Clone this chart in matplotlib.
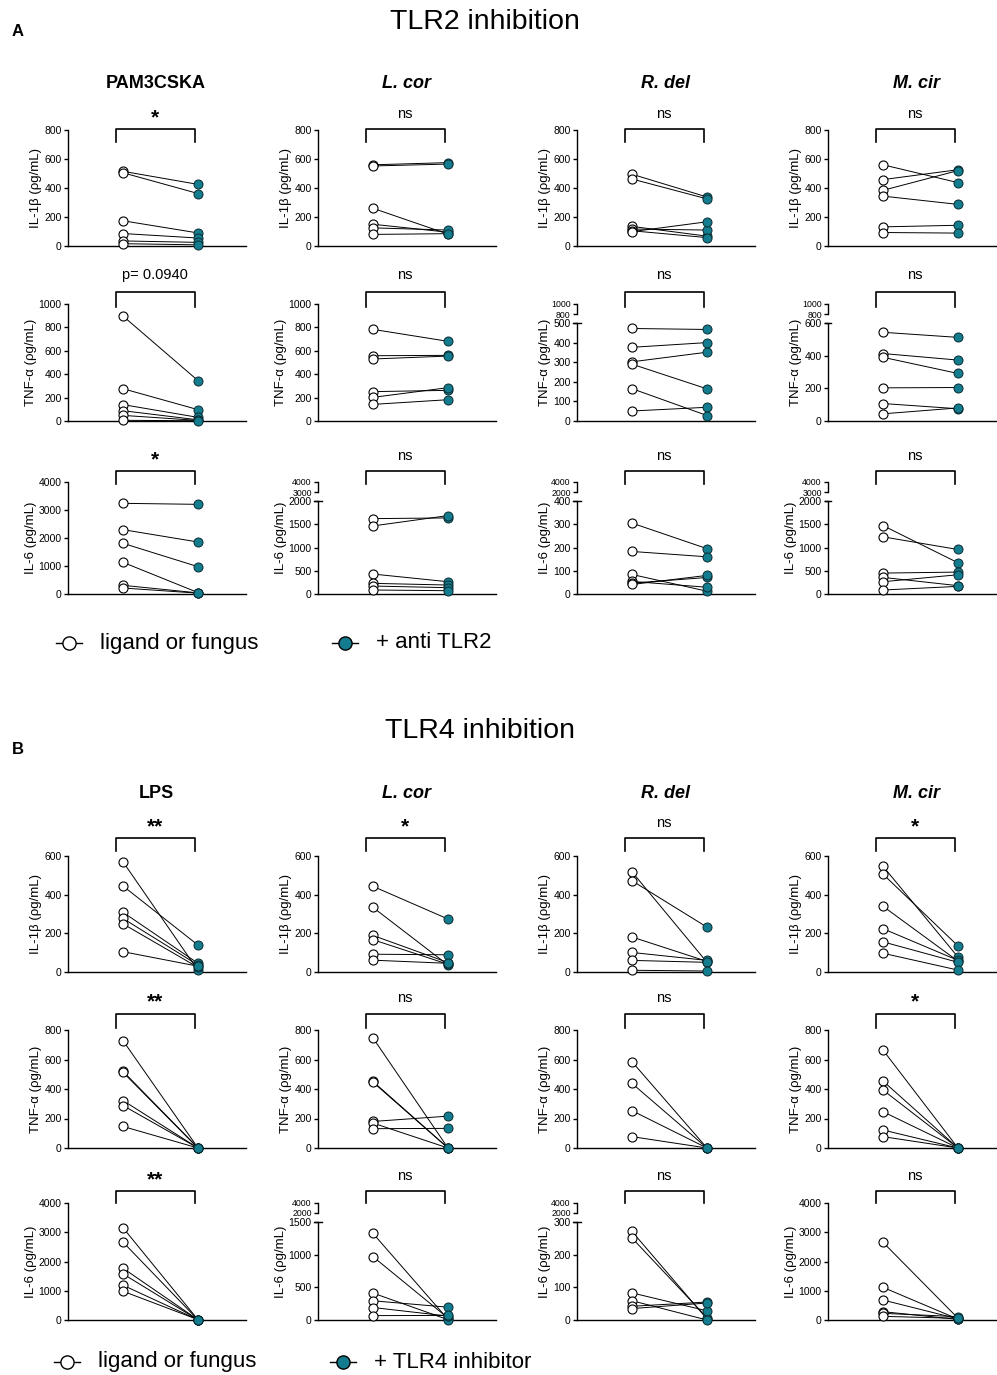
import matplotlib.pyplot as plt
from matplotlib.lines import Line2D

plt.rcParams['font.family'] = ['Liberation Sans', 'DejaVu Sans']

# ---- data (pg/mL), each inner list = one donor set per column ----
tlr2_cols = ['PAM3CSKA', 'L. cor', 'R. del', 'M. cir']
tlr4_cols = ['LPS', 'L. cor', 'R. del', 'M. cir']

tlr2_il1b_ctrl = [[515, 505, 174, 86, 35, 16], [560, 552, 260, 150, 125, 80],
                  [495, 462, 135, 117, 105, 99], [560, 458, 384, 344, 132, 93]]
tlr2_il1b_trt = [[425, 362, 90, 55, 25, 8], [575, 565, 82, 95, 110, 85],
                 [338, 325, 68, 110, 58, 167], [437, 526, 520, 287, 143, 89]]
tlr2_tnf_ctrl = [[897, 276, 140, 88, 48, 6], [783, 558, 530, 251, 202, 142],
                 [472, 376, 302, 290, 165, 51], [543, 413, 390, 203, 107, 44]]
tlr2_tnf_trt = [[345, 97, 31, 10, 5, 2], [681, 561, 555, 262, 285, 182],
                [467, 400, 351, 164, 28, 70], [512, 373, 291, 205, 75, 80]]
tlr2_il6_ctrl = [[3238, 2298, 1810, 1131, 310, 214], [1621, 1464, 429, 229, 171, 86],
                 [305, 183, 84, 54, 47, 41], [1471, 1229, 450, 357, 264, 86]]
tlr2_il6_trt = [[3202, 1857, 976, 50, 40, 30], [1636, 1686, 264, 193, 136, 71],
                [195, 160, 12, 29, 71, 80], [671, 957, 471, 179, 414, 164]]

tlr4_il1b_ctrl = [[570, 445, 309, 277, 249, 105], [443, 334, 189, 167, 92, 61],
                  [518, 472, 181, 101, 60, 9], [547, 506, 340, 224, 156, 97]]
tlr4_il1b_trt = [[8, 139, 45, 36, 24, 30], [274, 36, 49, 40, 89, 45],
                 [50, 232, 55, 60, 50, 5], [77, 135, 56, 60, 50, 10]]
tlr4_tnf_ctrl = [[728, 520, 513, 322, 288, 146], [746, 451, 446, 180, 169, 131],
                 [585, 438, 253, 77], [664, 454, 393, 246, 122, 77]]
tlr4_tnf_trt = [[0, 0, 0, 0, 0, 0], [0, 0, 0, 216, 0, 133],
                [0, 0, 0, 0], [0, 0, 0, 0, 0, 0]]
tlr4_il6_ctrl = [[3154, 2663, 1771, 1577, 1189, 983], [1325, 969, 412, 294, 191, 67],
                 [271, 251, 83, 59, 42, 35], [2655, 1116, 683, 285, 228, 125]]
tlr4_il6_trt = [[10, 5, 8, 3, 6, 12], [10, 30, 5, 196, 60, 70],
                [3, 7, 28, 0, 55, 52], [60, 30, 40, 20, 114, 57]]

# significance labels
tlr2_il1b_sig = ['*', 'ns', 'ns', 'ns']
tlr2_tnf_sig = ['p= 0.0940', 'ns', 'ns', 'ns']
tlr2_il6_sig = ['*', 'ns', 'ns', 'ns']
tlr4_il1b_sig = ['**', '*', 'ns', '*']
tlr4_tnf_sig = ['**', 'ns', 'ns', '*']
tlr4_il6_sig = ['**', 'ns', 'ns', 'ns']

# y axis: max, step, upper (broken) segment or None
tlr2_il1b_ax = [(800, 200, None)] * 4
tlr2_tnf_ax = [(1000, 200, None), (1000, 200, None), (500, 100, (800, 1000)), (600, 200, (800, 1000))]
tlr2_il6_ax = [(4000, 1000, None), (2000, 500, (3000, 4000)), (400, 100, (2000, 4000)), (2000, 500, (3000, 4000))]
tlr4_il1b_ax = [(600, 200, None)] * 4
tlr4_tnf_ax = [(800, 200, None)] * 4
tlr4_il6_ax = [(4000, 1000, None), (1500, 500, (2000, 4000)), (300, 100, (2000, 4000)), (4000, 1000, None)]

TEAL = '#137c8e'
W, H = 997, 1375
col_left = [68, 318, 577, 828]
col_width = [178, 178, 178, 168]

fig = plt.figure(figsize=(W / 100, H / 100), dpi=100)


def fx(px):
    return px / W


def fy(py):
    return 1 - py / H


def style_y(ax, lo, hi, step, fs):
    ax.set_ylim(lo, hi)
    ticks = list(range(lo, hi + 1, step))
    ax.set_yticks(ticks)
    ax.set_yticklabels([str(t) for t in ticks], fontsize=fs)
    for s in ['top', 'right']:
        ax.spines[s].set_visible(False)
    ax.spines['left'].set_linewidth(1.0)
    ax.spines['bottom'].set_linewidth(1.0)
    ax.tick_params(axis='y', length=3, width=1.0, pad=1.5)
    ax.set_xticks([])


def panel(col, top, bottom, ctrl, trt, axcfg, ylabel, sig, brk):
    left, width = col_left[col], col_width[col]
    ymax, step, upper = axcfg
    xlim = (-55 / 75, (width - 55) / 75)
    lower_top = top
    if upper is not None:
        ua = fig.add_axes([fx(left), fy(top + 10), width / W, 10 / H])
        style_y(ua, upper[0], upper[1], upper[1] - upper[0], 6.3)
        ua.spines['bottom'].set_visible(False)
        ua.set_xlim(*xlim)
        ua.patch.set_visible(False)
        lower_top = top + 19
    ax = fig.add_axes([fx(left), fy(bottom), width / W, (bottom - lower_top) / H])
    style_y(ax, 0, ymax, step, 7.5)
    ax.set_xlim(*xlim)
    ax.patch.set_visible(False)
    if upper is not None:
        ax.plot([-0.02, 0.02], [1, 1], color='black', lw=1.0,
                transform=ax.transAxes, clip_on=False)
    for a, b in zip(ctrl, trt):
        ax.plot([0, 1], [a, b], color='black', lw=0.7, zorder=2, clip_on=False)
    ax.plot([0] * len(ctrl), ctrl, 'o', ms=6.5, mfc='white', mec='black', mew=0.8,
            zorder=3, clip_on=False)
    ax.plot([1] * len(trt), trt, 'o', ms=6.5, mfc=TEAL, mec='#0a2a30', mew=0.7,
            zorder=4, clip_on=False)

    # y label centred on the whole panel
    ax.set_ylabel(ylabel, fontsize=9.5, labelpad=1.5)
    ax.yaxis.label.set_y((bottom - (top + bottom) / 2) / (bottom - lower_top))

    # significance bracket
    b_top, b_leg, t_y = brk
    bl, br = left + 48, left + 127
    fig.add_artist(Line2D([fx(bl), fx(bl), fx(br), fx(br)],
                          [fy(b_leg), fy(b_top), fy(b_top), fy(b_leg)],
                          transform=fig.transFigure, color='black', lw=1.2))
    if sig.startswith('*'):
        fig.text(fx(left + 87), fy(t_y + 4), sig, ha='center', va='center',
                 fontsize=15, fontweight='bold')
    else:
        fig.text(fx(left + 87), fy(t_y), sig, ha='center', va='center', fontsize=10.5)


def block(cols, rows, sub_y):
    for c in range(4):
        style = 'normal' if c == 0 else 'italic'
        fig.text(fx(col_left[c] + 88), fy(sub_y), cols[c], ha='center', va='center',
                 fontsize=13, fontweight='bold', fontstyle=style)
    for (top, bottom, brk, ctrl, trt, axcfg, ylabel, sigs) in rows:
        for c in range(4):
            panel(c, top, bottom, ctrl[c], trt[c], axcfg[c], ylabel, sigs[c], brk)


def legend(y, x_open, x_fill, lab_fill):
    for xc, fc, lab in [(x_open, 'white', 'ligand or fungus'), (x_fill, TEAL, lab_fill)]:
        fig.add_artist(Line2D([fx(xc - 13), fx(xc), fx(xc + 13)], [fy(y)] * 3,
                              transform=fig.transFigure, color='black', lw=1.0,
                              marker='o', markevery=[1], ms=9.5, mfc=fc, mec='black', mew=1.0))
        fig.text(fx(xc + 31), fy(y), lab, ha='left', va='center', fontsize=16)


IL1B = 'IL-1β (ρg/mL)'
TNF = 'TNF-α (ρg/mL)'
IL6 = 'IL-6 (ρg/mL)'

fig.text(fx(485), fy(22), 'TLR2 inhibition', ha='center', va='center', fontsize=20.5)
fig.text(fx(12), fy(31), 'A', ha='left', va='center', fontsize=12, fontweight='bold')
block(tlr2_cols, [
    (130, 246, (129, 142, 114), tlr2_il1b_ctrl, tlr2_il1b_trt, tlr2_il1b_ax, IL1B, tlr2_il1b_sig),
    (304, 421, (292, 307, 275), tlr2_tnf_ctrl, tlr2_tnf_trt, tlr2_tnf_ax, TNF, tlr2_tnf_sig),
    (482, 594, (471, 484, 456), tlr2_il6_ctrl, tlr2_il6_trt, tlr2_il6_ax, IL6, tlr2_il6_sig),
], 83)
legend(643, 69, 345, '+ anti TLR2')

fig.text(fx(480), fy(731), 'TLR4 inhibition', ha='center', va='center', fontsize=20.5)
fig.text(fx(12), fy(750), 'B', ha='left', va='center', fontsize=12, fontweight='bold')
block(tlr4_cols, [
    (856, 972, (838, 851, 823), tlr4_il1b_ctrl, tlr4_il1b_trt, tlr4_il1b_ax, IL1B, tlr4_il1b_sig),
    (1030, 1148, (1014, 1028, 998), tlr4_tnf_ctrl, tlr4_tnf_trt, tlr4_tnf_ax, TNF, tlr4_tnf_sig),
    (1203, 1320, (1191, 1203, 1176), tlr4_il6_ctrl, tlr4_il6_trt, tlr4_il6_ax, IL6, tlr4_il6_sig),
], 793)
legend(1362, 67, 343, '+ TLR4 inhibitor')

fig.savefig('out.png', dpi=100)
